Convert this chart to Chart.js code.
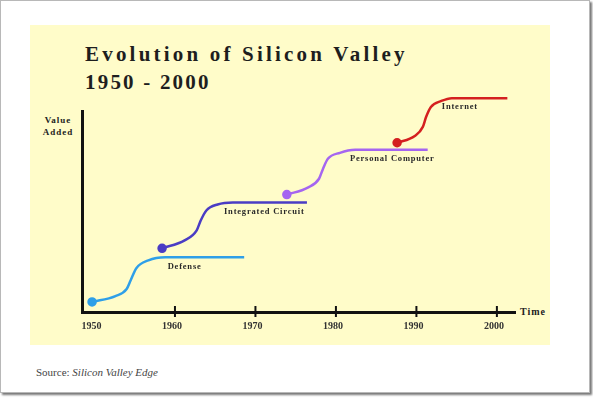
<!DOCTYPE html>
<html>
<head>
<meta charset="utf-8">
<script src="https://cdn.jsdelivr.net/npm/chart.js@4/dist/chart.umd.min.js"></script>
<style>
  body { margin: 0; width: 593px; height: 399px; background: #fff; position: relative; overflow: hidden; }
  #frame { position: absolute; left: 0; top: 0; width: 588px; height: 391px; border: 1px solid #b8b8b8; box-shadow: 2px 2px 2px #777; background: #fff; }
  #panel { position: absolute; left: 30px; top: 25px; width: 520px; height: 320px; background: #fffcc9; }
  #title { position: absolute; left: 85px; top: 40px; font: bold 21px "Liberation Serif", serif; letter-spacing: 3.2px; line-height: 28px; color: #1e1e1e; }
  #title span { letter-spacing: 2.2px; }
  #ylab { position: absolute; left: 38px; top: 114px; width: 40px; text-align: center; font: bold 9px "Liberation Serif", serif; letter-spacing: 1px; line-height: 12px; color: #222; }
  #xlab { position: absolute; left: 520px; top: 306px; font: bold 10px "Liberation Serif", serif; letter-spacing: 1px; color: #222; }
  #source { position: absolute; left: 36px; top: 366px; font: 11px "Liberation Serif", serif; color: #444; }
  canvas { position: absolute; left: 0; top: 0; }
</style>
</head>
<body>
<div id="frame"></div>
<div id="panel"></div>
<div id="title">Evolution of Silicon Valley<br><span>1950 - 2000</span></div>
<div id="ylab">Value<br>Added</div>
<div id="xlab">Time</div>
<div id="source">Source: <i>Silicon Valley Edge</i></div>
<canvas id="chart" width="593" height="399"></canvas>
<script>
// Eras and their curves (year, value added)
const eraNames = ["Defense", "Integrated Circuit", "Personal Computer", "Internet"];
const defenseYear = [1949.7, 1952.6, 1954.0, 1954.5, 1955.2, 1956.7, 1958.8, 1968.6];
const defenseValue = [5.0, 7.9, 11.4, 15.8, 21.8, 25.7, 27.2, 27.2];
const icYear = [1958.4, 1961.2, 1962.7, 1963.2, 1963.9, 1965.3, 1967.2, 1976.4];
const icValue = [31.7, 35.6, 40.6, 45.5, 50.5, 53.5, 54.5, 54.5];
const pcYear = [1973.9, 1976.5, 1977.9, 1978.4, 1979.0, 1980.5, 1982.4, 1991.4];
const pcValue = [58.4, 61.9, 66.3, 71.3, 76.2, 79.2, 80.7, 80.7];
const netYear = [1987.6, 1989.8, 1990.8, 1991.2, 1991.8, 1993.1, 1994.4, 2001.3];
const netValue = [84.2, 87.6, 92.1, 97.0, 102.0, 105.0, 106.4, 106.4];
// Year where each era label is centred
const labelYear = [1961.2, 1971.1, 1987.0, 1995.4];
// Tick labels on the time axis
const xTicks = [1950, 1960, 1970, 1980, 1990, 2000];

const eraColors = ["#2f9fe8", "#4a3cc4", "#a565f0", "#d42020"];
const curves = [
  [defenseYear, defenseValue],
  [icYear, icValue],
  [pcYear, pcValue],
  [netYear, netValue],
];

const toPoints = (xs, ys) => xs.map((x, i) => ({ x: x, y: ys[i] }));

// Tick marks crossing the axis and era labels under each plateau
const extras = {
  id: "extras",
  afterDatasetsDraw(chart) {
    const ctx = chart.ctx;
    const xs = chart.scales.x;
    const ys = chart.scales.y;
    const base = chart.chartArea.bottom;
    ctx.save();
    ctx.strokeStyle = "#111";
    ctx.lineWidth = 2;
    xTicks.slice(1).forEach((t) => {
      const px = xs.getPixelForValue(t);
      ctx.beginPath();
      ctx.moveTo(px, base - 6);
      ctx.lineTo(px, base + 5);
      ctx.stroke();
    });
    ctx.fillStyle = "#2a2a2a";
    ctx.font = "bold 8.5px 'Liberation Serif', serif";
    ctx.letterSpacing = "0.8px";
    ctx.textAlign = "center";
    ctx.textBaseline = "middle";
    eraNames.forEach((name, i) => {
      const vals = curves[i][1];
      const py = ys.getPixelForValue(vals[vals.length - 1]) + 9;
      ctx.fillText(name, xs.getPixelForValue(labelYear[i]), py);
    });
    ctx.restore();
  },
};

new Chart(document.getElementById("chart"), {
  type: "line",
  plugins: [extras],
  data: {
    datasets: eraNames.map((name, i) => ({
      label: name,
      data: toPoints(curves[i][0], curves[i][1]),
      borderColor: eraColors[i],
      backgroundColor: eraColors[i],
      borderWidth: 2.5,
      cubicInterpolationMode: "monotone",
      pointRadius: (c) => (c.dataIndex === 0 ? 3.5 : 0),
      pointHoverRadius: 0,
      clip: false,
    })),
  },
  options: {
    responsive: false,
    animation: false,
    layout: { padding: { left: 82, top: 111, right: 78, bottom: 62 } },
    plugins: { legend: { display: false }, tooltip: { enabled: false } },
    scales: {
      x: {
        type: "linear",
        min: 1948.45,
        max: 2002.25,
        afterBuildTicks: (s) => { s.ticks = xTicks.map((v) => ({ value: v })); },
        afterFit: (s) => { s.height = 25; },
        grid: { display: false },
        border: { display: true, color: "#111", width: 3 },
        ticks: {
          autoSkip: false,
          maxRotation: 0,
          padding: 0,
          labelOffset: -3,
          color: "#333",
          font: { family: "'Liberation Serif', serif", size: 10, weight: "bold" },
          callback: (v) => String(v),
        },
      },
      y: {
        min: 0,
        max: 100,
        afterFit: (s) => { s.width = 0; },
        grid: { display: false },
        border: { display: true, color: "#111", width: 3 },
        ticks: { display: false },
      },
    },
  },
});
</script>
</body>
</html>
